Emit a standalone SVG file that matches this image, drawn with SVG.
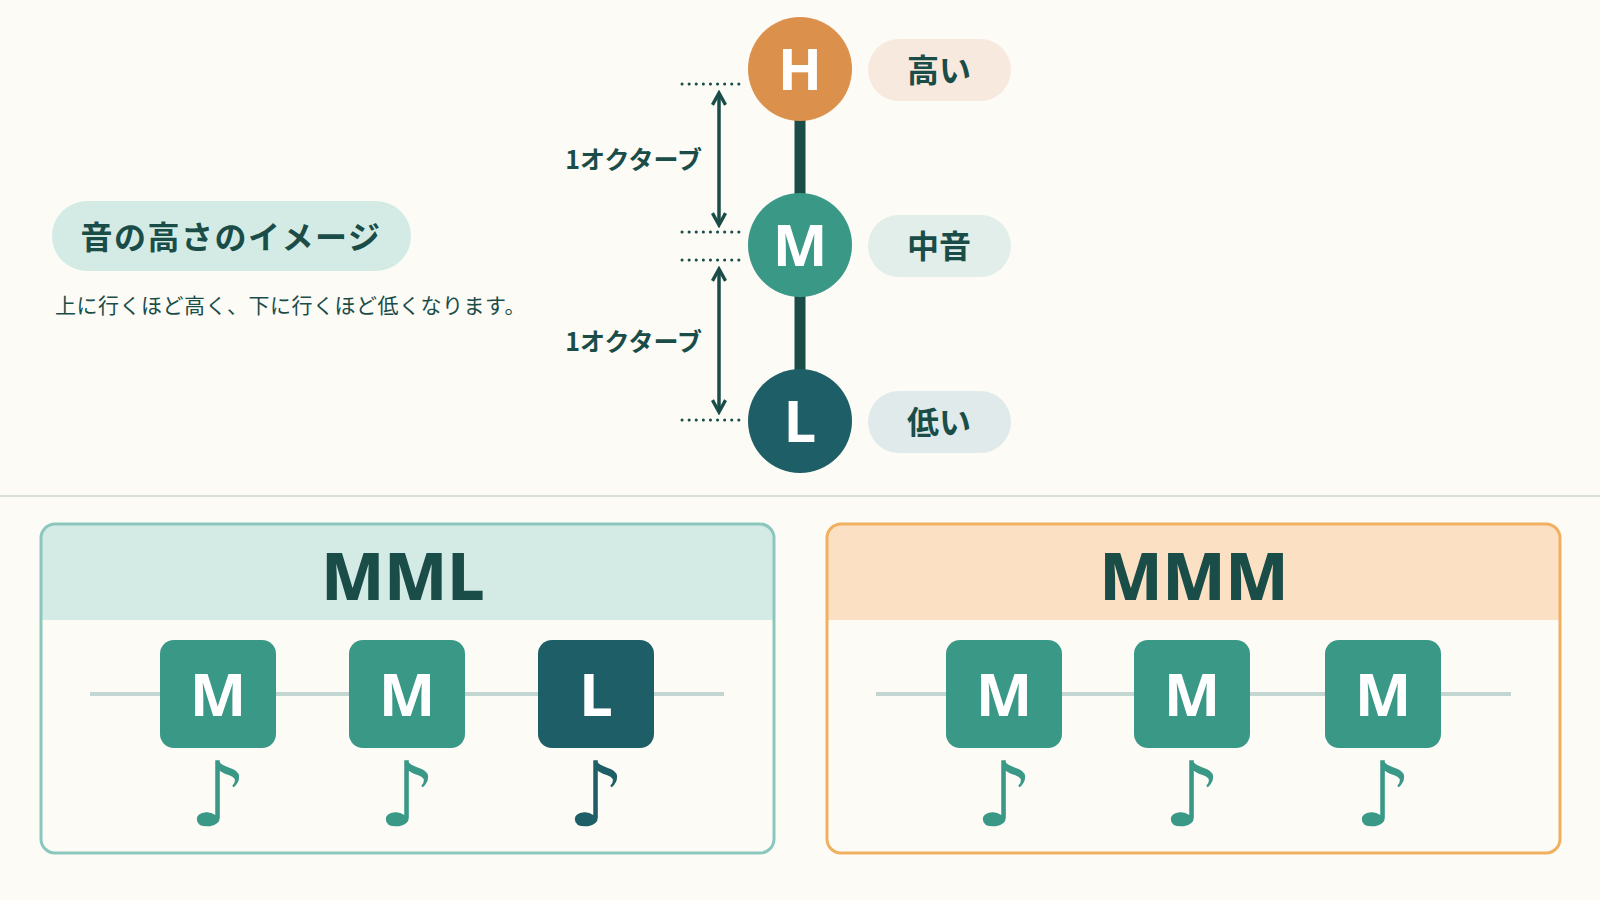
<svg xmlns="http://www.w3.org/2000/svg" width="1600" height="900" viewBox="0 0 1600 900">
<style>
text{font-family:"Noto Sans CJK JP","Noto Sans",sans-serif;}
.dk{fill:#1b4d48;font-weight:700}
.w{fill:#fff;font-family:"Noto Sans","Liberation Sans",sans-serif;font-weight:700;text-anchor:middle}
.dot{stroke:#1b4d48;stroke-width:3;stroke-dasharray:0.1 7;stroke-linecap:round}
.arr{stroke:#1b4d48;stroke-width:3.5;fill:none}
.tm{fill:#3a9886}.tl{fill:#1e5e66}
.note{font-family:"DejaVu Sans",sans-serif;font-size:90px;text-anchor:middle}
.rail{stroke:#c4d6d2;stroke-width:4}
</style>
<defs>
<marker id="ah" viewBox="0 0 12 12" refX="10" refY="6" markerWidth="4.5" markerHeight="4.5" orient="auto-start-reverse"><path d="M1 1 L10 6 L1 11" fill="none" stroke="#1b4d48" stroke-width="2.6"/></marker>
</defs>
<rect width="1600" height="900" fill="#fcfbf6"/>
<g id="title">
<rect x="52" y="201" width="359" height="70" rx="35" fill="#d4ebe5"/>
<text x="231" y="249" font-size="32" letter-spacing="1.5" text-anchor="middle" class="dk">音の高さのイメージ</text>
<text x="55" y="313" font-size="21" letter-spacing="0.5" fill="#1b4d48">上に行くほど高く、下に行くほど低くなります。</text>
</g>
<g id="connectors">
<line x1="800" y1="110" x2="800" y2="400" stroke="#1b4d48" stroke-width="11"/>
<line class="dot" x1="682" y1="84" x2="744" y2="84"/>
<line class="dot" x1="682" y1="232" x2="744" y2="232"/>
<line class="dot" x1="682" y1="260" x2="744" y2="260"/>
<line class="dot" x1="682" y1="420" x2="744" y2="420"/>
<line class="arr" x1="719" y1="93" x2="719" y2="225" marker-start="url(#ah)" marker-end="url(#ah)"/>
<line class="arr" x1="719" y1="269" x2="719" y2="412" marker-start="url(#ah)" marker-end="url(#ah)"/>
<text x="702" y="169" font-size="25" text-anchor="end" class="dk">1オクターブ</text>
<text x="702" y="351" font-size="25" text-anchor="end" class="dk">1オクターブ</text>
</g>
<g id="nodeH"><circle cx="800" cy="69" r="52" fill="#db914c"/><text x="800" y="90" font-size="58" class="w">H</text></g>
<g id="nodeM"><circle cx="800" cy="245" r="52" fill="#3a9886"/><text x="800" y="266" font-size="58" class="w">M</text></g>
<g id="nodeL"><circle cx="800" cy="421" r="52" fill="#1e5e66"/><text x="800" y="442" font-size="58" class="w">L</text></g>
<g id="labH"><rect x="868" y="39" width="143" height="62" rx="31" fill="#f8e9de"/><text x="939" y="82" font-size="32" text-anchor="middle" class="dk">高い</text></g>
<g id="labM"><rect x="868" y="215" width="143" height="62" rx="31" fill="#e1eeea"/><text x="939" y="258" font-size="32" text-anchor="middle" class="dk">中音</text></g>
<g id="labL"><rect x="868" y="391" width="143" height="62" rx="31" fill="#e0eaea"/><text x="939" y="434" font-size="32" text-anchor="middle" class="dk">低い</text></g>
<line x1="0" y1="496" x2="1600" y2="496" stroke="#d7dedc" stroke-width="2"/>
<g id="boxMML">
<path d="M41 620 V538 a14 14 0 0 1 14 -14 H760 a14 14 0 0 1 14 14 V620 Z" fill="#d4ebe5"/>
<rect x="41" y="524" width="733" height="329" rx="14" fill="none" stroke="#8cc7bd" stroke-width="3"/>
<text x="403" y="600" font-size="66" text-anchor="middle" class="dk" style="font-family:'Noto Sans','Liberation Sans',sans-serif;font-weight:800">MML</text>
<line class="rail" x1="90" y1="694" x2="724" y2="694"/>
<rect x="160" y="640" width="116" height="108" rx="14" class="tm"/><text x="218" y="716" font-size="60" class="w">M</text>
<rect x="349" y="640" width="116" height="108" rx="14" class="tm"/><text x="407" y="716" font-size="60" class="w">M</text>
<rect x="538" y="640" width="116" height="108" rx="14" class="tl"/><text x="596" y="716" font-size="60" class="w">L</text>
<text x="218" y="826" class="note tm">♪</text><text x="407" y="826" class="note tm">♪</text><text x="596" y="826" class="note tl">♪</text>
</g>
<g id="boxMMM">
<path d="M827 620 V538 a14 14 0 0 1 14 -14 H1546 a14 14 0 0 1 14 14 V620 Z" fill="#fbe0c4"/>
<rect x="827" y="524" width="733" height="329" rx="14" fill="none" stroke="#f0b060" stroke-width="3"/>
<text x="1194" y="600" font-size="66" text-anchor="middle" class="dk" style="font-family:'Noto Sans','Liberation Sans',sans-serif;font-weight:800">MMM</text>
<line class="rail" x1="876" y1="694" x2="1511" y2="694"/>
<rect x="946" y="640" width="116" height="108" rx="14" class="tm"/><text x="1004" y="716" font-size="60" class="w">M</text>
<rect x="1134" y="640" width="116" height="108" rx="14" class="tm"/><text x="1192" y="716" font-size="60" class="w">M</text>
<rect x="1325" y="640" width="116" height="108" rx="14" class="tm"/><text x="1383" y="716" font-size="60" class="w">M</text>
<text x="1004" y="826" class="note tm">♪</text><text x="1192" y="826" class="note tm">♪</text><text x="1383" y="826" class="note tm">♪</text>
</g>
</svg>
